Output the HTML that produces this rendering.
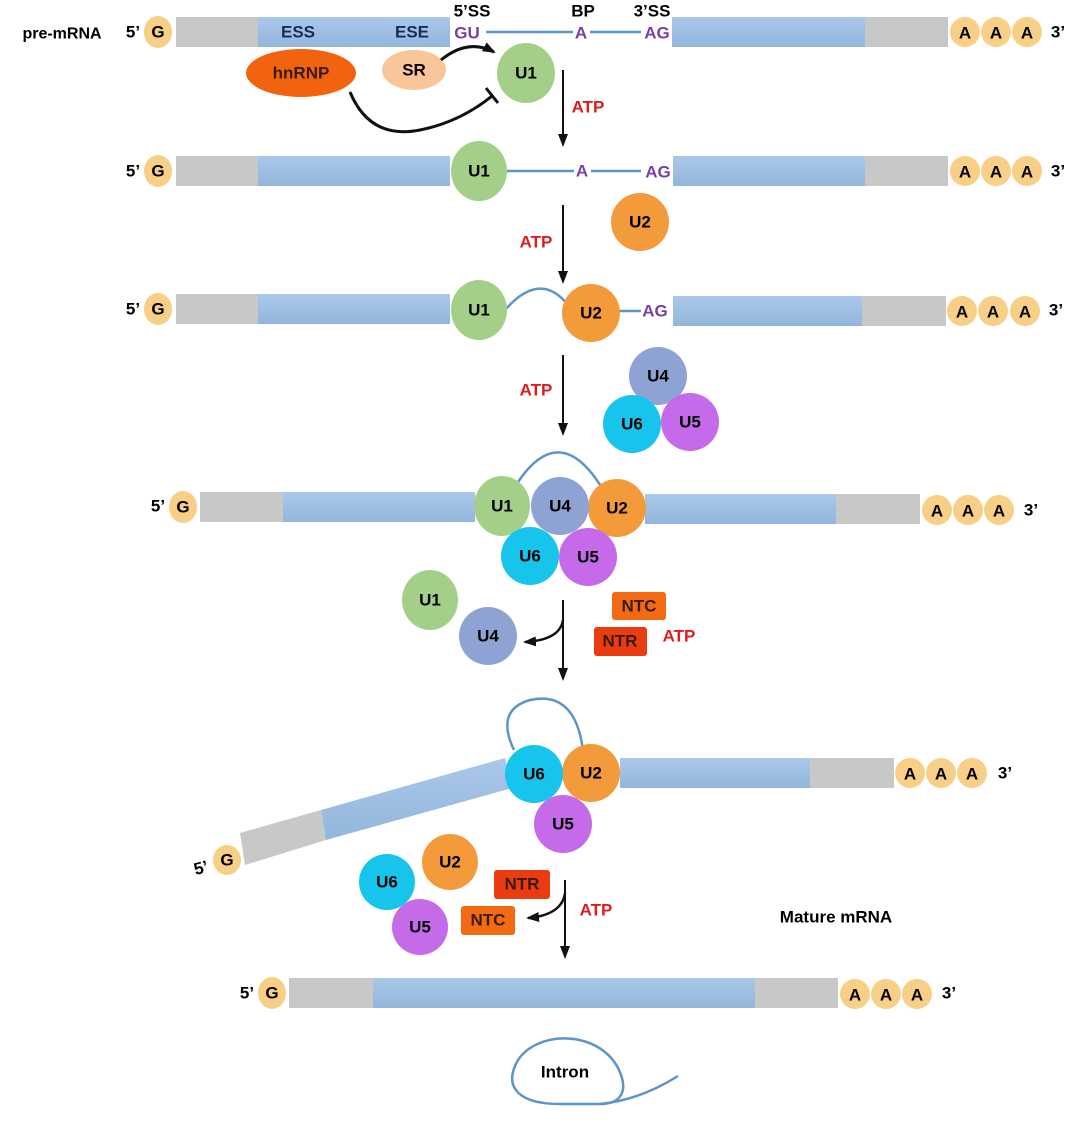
<!DOCTYPE html>
<html><head><style>body{margin:0;background:#fff}svg{display:block}text{font-family:"Liberation Sans",sans-serif;font-weight:bold}</style></head><body>
<svg width="1080" height="1126" viewBox="0 0 1080 1126" xmlns="http://www.w3.org/2000/svg">
<defs>
<marker id="ah" markerUnits="userSpaceOnUse" markerWidth="13" markerHeight="13" refX="11" refY="6.5" orient="auto"><path d="M0,1.5 L13,6.5 L0,11.5 z" fill="#111"/></marker>
<linearGradient id="bl" x1="0" y1="0" x2="0" y2="1"><stop offset="0" stop-color="#aac8ea"/><stop offset="1" stop-color="#93b6dc"/></linearGradient>
</defs>
<g font-size="17" text-anchor="middle" dominant-baseline="central">
<text x="62" y="34" font-size="16">pre-mRNA</text>
<!-- row1 -->
<text x="133" y="32">5’</text><ellipse cx="158" cy="32" rx="14" ry="16" fill="#f7cf86"/><text x="158" y="32">G</text>
<rect x="176" y="17" width="82" height="30" fill="#c8c8c8"/><rect x="258" y="17" width="192" height="30" fill="url(#bl)"/>
<text x="298" y="32" fill="#1a2a55">ESS</text><text x="412" y="32" fill="#1a2a55">ESE</text>
<text x="472" y="11">5’SS</text><text x="583" y="11">BP</text><text x="652" y="11">3’SS</text>
<line x1="486" y1="32" x2="573" y2="32" stroke="#5d94c9" stroke-width="2.5"/><line x1="590" y1="32" x2="641" y2="32" stroke="#5d94c9" stroke-width="2.5"/>
<text x="467" y="33" fill="#7a3ea8">GU</text><text x="581" y="33" fill="#7a3ea8">A</text><text x="657" y="33" fill="#7a3ea8">AG</text>
<rect x="672" y="17" width="193" height="30" fill="url(#bl)"/><rect x="865" y="17" width="83" height="30" fill="#c8c8c8"/>
<circle cx="965" cy="32" r="15" fill="#f7cf86"/><text x="965" y="33">A</text><circle cx="996" cy="32" r="15" fill="#f7cf86"/><text x="996" y="33">A</text><circle cx="1027" cy="32" r="15" fill="#f7cf86"/><text x="1027" y="33">A</text><text x="1058" y="32">3’</text>
<ellipse cx="301" cy="73" rx="55" ry="24" fill="#f2630f"/><text x="301" y="73" fill="#3a1a0a">hnRNP</text>
<ellipse cx="414" cy="70" rx="32" ry="20" fill="#f9c699"/><text x="414" y="70">SR</text>
<ellipse cx="526" cy="73" rx="29" ry="30" fill="#a4cf88"/><text x="526" y="73">U1</text>
<path d="M441,60 Q468,38 494,52" fill="none" stroke="#111" stroke-width="3" marker-end="url(#ah)"/>
<path d="M350,92 Q370,140 420,130 Q460,122 492,96" fill="none" stroke="#111" stroke-width="3"/><line x1="486" y1="88" x2="498" y2="103" stroke="#111" stroke-width="3"/>
<line x1="563" y1="70" x2="563" y2="145" stroke="#111" stroke-width="2" marker-end="url(#ah)"/><text x="588" y="107" fill="#e01b1b">ATP</text>
<!-- row2 -->
<text x="133" y="171">5’</text><ellipse cx="158" cy="171" rx="14" ry="16" fill="#f7cf86"/><text x="158" y="171">G</text>
<rect x="176" y="156" width="82" height="30" fill="#c8c8c8"/><rect x="258" y="156" width="192" height="30" fill="url(#bl)"/>
<line x1="505" y1="171" x2="574" y2="171" stroke="#5d94c9" stroke-width="2.5"/><line x1="591" y1="171" x2="641" y2="171" stroke="#5d94c9" stroke-width="2.5"/>
<ellipse cx="479" cy="171" rx="28" ry="30" fill="#a4cf88"/><text x="479" y="171">U1</text>
<text x="582" y="171" fill="#7a3ea8">A</text><text x="658" y="172" fill="#7a3ea8">AG</text>
<rect x="673" y="156" width="192" height="30" fill="url(#bl)"/><rect x="865" y="156" width="83" height="30" fill="#c8c8c8"/>
<circle cx="965" cy="171" r="15" fill="#f7cf86"/><text x="965" y="172">A</text><circle cx="996" cy="171" r="15" fill="#f7cf86"/><text x="996" y="172">A</text><circle cx="1027" cy="171" r="15" fill="#f7cf86"/><text x="1027" y="172">A</text><text x="1058" y="171">3’</text>
<circle cx="640" cy="222" r="29" fill="#f39a3a"/><text x="640" y="222">U2</text>
<line x1="563" y1="205" x2="563" y2="282" stroke="#111" stroke-width="2" marker-end="url(#ah)"/><text x="536" y="242" fill="#e01b1b">ATP</text>
<!-- row3 -->
<text x="133" y="309">5’</text><ellipse cx="158" cy="309" rx="14" ry="16" fill="#f7cf86"/><text x="158" y="309">G</text>
<rect x="176" y="294" width="82" height="30" fill="#c8c8c8"/><rect x="258" y="294" width="192" height="30" fill="url(#bl)"/>
<path d="M505,310 Q540,270 568,305" fill="none" stroke="#5d94c9" stroke-width="2.5"/>
<line x1="618" y1="311" x2="641" y2="311" stroke="#5d94c9" stroke-width="2.5"/>
<ellipse cx="479" cy="310" rx="28" ry="30" fill="#a4cf88"/><text x="479" y="310">U1</text>
<circle cx="591" cy="313" r="29" fill="#f39a3a"/><text x="591" y="313">U2</text>
<text x="655" y="311" fill="#7a3ea8">AG</text>
<rect x="673" y="296" width="189" height="30" fill="url(#bl)"/><rect x="862" y="296" width="84" height="30" fill="#c8c8c8"/>
<circle cx="962" cy="311" r="15" fill="#f7cf86"/><text x="962" y="312">A</text><circle cx="993" cy="311" r="15" fill="#f7cf86"/><text x="993" y="312">A</text><circle cx="1025" cy="311" r="15" fill="#f7cf86"/><text x="1025" y="312">A</text><text x="1056" y="310">3’</text>
<line x1="563" y1="355" x2="563" y2="434" stroke="#111" stroke-width="2" marker-end="url(#ah)"/><text x="536" y="390" fill="#e01b1b">ATP</text>
<circle cx="658" cy="376" r="29" fill="#8ea3d4"/><text x="658" y="376">U4</text>
<circle cx="690" cy="422" r="29" fill="#c56ae8"/><text x="690" y="422">U5</text>
<circle cx="632" cy="424" r="29" fill="#17c4ec"/><text x="632" y="424">U6</text>
<!-- row4 -->
<text x="158" y="506">5’</text><ellipse cx="183" cy="507" rx="14" ry="16" fill="#f7cf86"/><text x="183" y="507">G</text>
<rect x="200" y="492" width="83" height="30" fill="#c8c8c8"/><rect x="283" y="492" width="192" height="30" fill="url(#bl)"/>
<rect x="645" y="494" width="191" height="30" fill="url(#bl)"/><rect x="836" y="494" width="84" height="30" fill="#c8c8c8"/>
<path d="M518,482 Q560,420 602,488" fill="none" stroke="#5d94c9" stroke-width="2.5"/>
<circle cx="617" cy="508" r="29" fill="#f39a3a"/><text x="617" y="508">U2</text>
<circle cx="560" cy="506" r="29" fill="#8ea3d4"/><text x="560" y="506">U4</text>
<ellipse cx="502" cy="506" rx="28" ry="30" fill="#a4cf88"/><text x="502" y="506">U1</text>
<circle cx="530" cy="556" r="29" fill="#17c4ec"/><text x="530" y="556">U6</text>
<circle cx="588" cy="557" r="29" fill="#c56ae8"/><text x="588" y="557">U5</text>
<circle cx="937" cy="510" r="15" fill="#f7cf86"/><text x="937" y="511">A</text><circle cx="968" cy="510" r="15" fill="#f7cf86"/><text x="968" y="511">A</text><circle cx="999" cy="510" r="15" fill="#f7cf86"/><text x="999" y="511">A</text><text x="1031" y="510">3’</text>
<ellipse cx="430" cy="600" rx="28" ry="30" fill="#a4cf88"/><text x="430" y="600">U1</text>
<circle cx="488" cy="636" r="29" fill="#8ea3d4"/><text x="488" y="636">U4</text>
<line x1="563" y1="600" x2="563" y2="679" stroke="#111" stroke-width="2" marker-end="url(#ah)"/>
<path d="M563,620 Q560,640 525,642" fill="none" stroke="#111" stroke-width="2.5" marker-end="url(#ah)"/>
<rect x="612" y="592" width="54" height="28" rx="3" fill="#f26a12"/><text x="639" y="606" fill="#3a1a0a">NTC</text>
<rect x="594" y="627" width="53" height="29" rx="3" fill="#e93c10"/><text x="620" y="641" fill="#3a1a0a">NTR</text>
<text x="679" y="636" fill="#e01b1b">ATP</text>
<!-- row5 -->
<path d="M514,750 Q495,710 530,700 Q575,690 583,750" fill="none" stroke="#5d94c9" stroke-width="2.5"/>
<polygon points="240,833 321,810 326,840 245,865" fill="#c8c8c8"/>
<polygon points="321,810 505,758 512,788 326,840" fill="url(#bl)"/>
<rect x="620" y="758" width="190" height="30" fill="url(#bl)"/><rect x="810" y="758" width="84" height="30" fill="#c8c8c8"/>
<circle cx="591" cy="773" r="29" fill="#f39a3a"/><text x="591" y="773">U2</text>
<circle cx="534" cy="774" r="29" fill="#17c4ec"/><text x="534" y="774">U6</text>
<circle cx="563" cy="824" r="29" fill="#c56ae8"/><text x="563" y="824">U5</text>
<circle cx="910" cy="773" r="15" fill="#f7cf86"/><text x="910" y="774">A</text><circle cx="941" cy="773" r="15" fill="#f7cf86"/><text x="941" y="774">A</text><circle cx="972" cy="773" r="15" fill="#f7cf86"/><text x="972" y="774">A</text><text x="1005" y="773">3’</text>
<ellipse cx="227" cy="860" rx="14" ry="15" fill="#f7cf86"/><text x="227" y="860">G</text><text x="201" y="868" transform="rotate(-15 201 868)">5’</text>
<circle cx="387" cy="882" r="28" fill="#17c4ec"/><text x="387" y="882">U6</text>
<circle cx="450" cy="862" r="28" fill="#f39a3a"/><text x="450" y="862">U2</text>
<circle cx="420" cy="927" r="28" fill="#c56ae8"/><text x="420" y="927">U5</text>
<rect x="494" y="870" width="56" height="29" rx="3" fill="#e93c10"/><text x="522" y="884" fill="#3a1a0a">NTR</text>
<rect x="461" y="906" width="54" height="29" rx="3" fill="#f26a12"/><text x="488" y="920" fill="#3a1a0a">NTC</text>
<line x1="565" y1="880" x2="565" y2="957" stroke="#111" stroke-width="2" marker-end="url(#ah)"/>
<path d="M565,893 Q562,915 528,918" fill="none" stroke="#111" stroke-width="2.5" marker-end="url(#ah)"/>
<text x="596" y="910" fill="#e01b1b">ATP</text>
<text x="836" y="917">Mature mRNA</text>
<!-- row6 -->
<text x="247" y="993">5’</text><ellipse cx="272" cy="993" rx="14" ry="16" fill="#f7cf86"/><text x="272" y="993">G</text>
<rect x="289" y="978" width="84" height="30" fill="#c8c8c8"/><rect x="373" y="978" width="382" height="30" fill="url(#bl)"/><rect x="755" y="978" width="83" height="30" fill="#c8c8c8"/>
<circle cx="855" cy="994" r="15" fill="#f7cf86"/><text x="855" y="995">A</text><circle cx="886" cy="994" r="15" fill="#f7cf86"/><text x="886" y="995">A</text><circle cx="917" cy="994" r="15" fill="#f7cf86"/><text x="917" y="995">A</text><text x="949" y="993">3’</text>
<path d="M560,1104 C520,1104 502,1088 518,1060 C538,1030 598,1030 618,1068 C630,1092 620,1104 600,1104 Z" fill="none" stroke="#5d94c9" stroke-width="2.5"/>
<path d="M600,1104 Q640,1100 678,1076" fill="none" stroke="#5d94c9" stroke-width="2.5"/>
<text x="565" y="1072">Intron</text>
</g>
</svg>
</body></html>
